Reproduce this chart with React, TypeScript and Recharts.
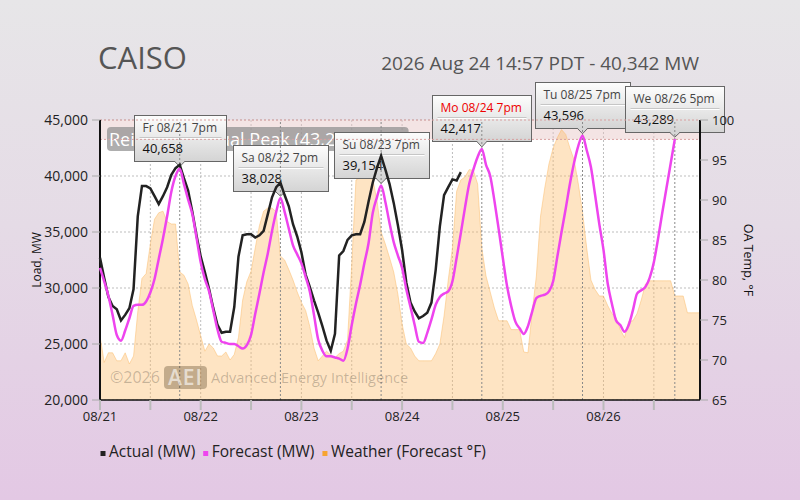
import React from "react"
import {
  ComposedChart,
  Line,
  Area,
  XAxis,
  YAxis,
  CartesianGrid,
  ReferenceArea,
  ReferenceLine,
  ReferenceDot,
} from "recharts"

// hourly values, hour 0 = 08/21 00:00 PDT
const ACTUAL_MW = [
  32700, 30900, 29200, 28400, 28100, 27100, 27600, 28200, 29900, 36400, 39100, 39100,
  38900, 38200, 37500, 38200, 39000, 40100, 40700, 41000, 39800, 38700, 36800, 34700,
  32800, 31400, 29900, 28200, 26700, 26000, 26100, 26100, 28300, 32800, 34700, 34800,
  34800, 34500, 34700, 35100, 36600, 38100, 39000, 39400, 38300, 37300, 35700, 34600,
  33200, 31200, 30100, 28900, 27800, 26600, 25300, 24400, 25900, 32900, 33300, 34300,
  34700, 34800, 34800, 35900, 37700, 39400, 40700, 41800, 40600, 39300, 37600, 35600,
  33400, 30500, 28700, 27900, 27300, 27500, 27800, 28700, 31600, 35500, 38300, 39000,
  39700, 39600, 40342,
]

const FORECAST_MW = [
  31800, 30600, 29300, 27600, 25800, 25300, 26200, 27300, 28400, 28500, 28500, 28800,
  29600, 30800, 32600, 34400, 36400, 38600, 40000, 40658, 39300, 37900, 36600, 34500,
  32300, 30800, 29700, 28000, 26300, 25200, 25100, 25000, 25000, 24800, 24600, 24900,
  25800, 27700, 29500, 31400, 33100, 35100, 36800, 38028, 36800, 35300, 33800, 33000,
  32200, 31000, 29700, 27600, 25400, 24400, 23900, 23900, 23800, 23700, 23500, 24600,
  26700, 28600, 30300, 32200, 34000, 36700, 38100, 39154, 37700, 35800, 34100, 32900,
  31800, 29900, 28300, 26700, 25200, 25100, 26000, 27200, 28500, 29200, 29500, 29700,
  30600, 32700, 34900, 37200, 39300, 40600, 41700, 42417, 41000, 40000, 37800, 35300,
  32700, 30200, 28400, 27000, 26400, 25900, 26600, 27900, 29100, 29300, 29400, 29700,
  30600, 32800, 35000, 37100, 39300, 41200, 42700, 43596, 42300, 40800, 38300, 35700,
  33400, 30400, 28600, 27100, 26700, 26100, 26700, 28000, 29500, 29800, 30100, 30900,
  32300, 34400, 36700, 38900, 41100, 43289,
]

const TEMP_F = [
  73, 69.7, 70.9, 70.9, 69.9, 69.9, 70.9, 69.5, 70.5, 76, 80.2, 80.8,
  84.5, 87.6, 88.4, 88.6, 87.3, 87, 87, 81, 80.6, 79.5, 76.8, 75,
  73, 71.1, 72, 71.5, 70.5, 70.5, 71, 70, 70.7, 72.8, 77.5, 79.8,
  81.1, 84, 86.8, 88.6, 89, 89, 88.5, 83, 82.5, 81.3, 80, 78.5,
  77.2, 76.2, 74.2, 71.5, 69.9, 70.5, 71.1, 70.6, 70.3, 70.8, 71.1, 72.5,
  82, 92.5, 92.8, 92.8, 92.8, 92.6, 90, 86, 84.5, 82.8, 81, 78.2,
  74.5, 72, 71.5, 70.5, 69.9, 69.9, 69.9, 69.9, 70.8, 72, 75.5, 80,
  84, 91.1, 92.5, 92.9, 93.8, 93.7, 92, 84, 80.5, 78.5, 76.5, 74.9,
  74.9, 74.9, 73.8, 73.8, 73.8, 71, 70.9, 76, 80.5, 88, 91.5, 94.5,
  96.5, 97.8, 98.8, 98.2, 96.5, 95, 92, 88.5, 84, 80, 78.8, 78,
  78, 76.8, 75.8, 75.3, 73.8, 72.8, 74.8, 74.9, 75.8, 77.5, 79.5, 79.9,
  79.9, 79.9, 79.9, 79.9, 79.9, 78, 78, 78, 75.9, 75.9, 75.9, 75.9,
]

const DAY_LABELS = ["08/21", "08/22", "08/23", "08/24", "08/25", "08/26"]
const HOUR_TICKS = [0, 12, 24, 36, 48, 60, 72, 84, 96, 108, 120, 132]
const LOAD_TICKS = [20000, 25000, 30000, 35000, 40000, 45000]
const TEMP_TICKS = [65, 70, 75, 80, 85, 90, 95, 100]

const PEAK_HOURS = [19, 43, 67, 91, 115, 137]
const PEAK_LABELS = ["Fr 08/21 7pm", "Sa 08/22 7pm", "Su 08/23 7pm", "Mo 08/24 7pm", "Tu 08/25 7pm", "We 08/26 5pm"]
const TODAY_INDEX = 3
const RECORD_PEAK_MW = 43270

const SERIES_NAMES = ["Actual (MW)", "Forecast (MW)", "Weather (Forecast °F)"]
const SERIES_COLORS = ["#222222", "#ee44ee", "#f7a431"]

const TITLE = "CAISO"
const SUBTITLE = "2026 Aug 24 14:57 PDT - 40,342 MW"

const FONT = "'Open Sans', sans-serif"

const data = TEMP_F.map((temp, hour) => ({
  hour,
  temp,
  actual: hour < ACTUAL_MW.length ? ACTUAL_MW[hour] : null,
  forecast: hour < FORECAST_MW.length ? FORECAST_MW[hour] : null,
}))

const fmt = (v: number) => v.toLocaleString("en-US")

let measureCtx: CanvasRenderingContext2D | null = null
function textWidth(s: string, size: number) {
  if (!measureCtx) measureCtx = document.createElement("canvas").getContext("2d")
  if (!measureCtx) return s.length * size * 0.55
  measureCtx.font = `${size}px 'Open Sans'`
  return measureCtx.measureText(s).width
}

function PeakBox({ cx, cy, label, value, today, id }: any) {
  if (cx == null || cy == null) return null
  const w = Math.round(Math.max(textWidth(label, 12), textWidth(fmt(value), 13)) + 18)
  const h = 46
  const x = Math.round(cx - w / 2) + 0.5
  const bottom = Math.round(cy - 7.5) + 0.5
  const y = bottom - h
  return (
    <g>
      <defs>
        <linearGradient id={`pk${id}`} x1="0" y1="0" x2="0" y2="1">
          <stop offset="0" stopColor="#fdfdfd" />
          <stop offset="1" stopColor="#d4d4d4" />
        </linearGradient>
      </defs>
      <rect x={x} y={y} width={w} height={h} fill={`url(#pk${id})`} stroke="#666" />
      <path d={`M${cx - 5},${bottom - 0.5} L${cx},${cy - 2} L${cx + 5},${bottom - 0.5} Z`} fill="#d5d5d5" />
      <path d={`M${cx - 5},${bottom} L${cx},${cy - 2} L${cx + 5},${bottom}`} fill="none" stroke="#666" />
      <line x1={x + 5} x2={x + w - 5} y1={y + 22} y2={y + 22} stroke="#c6c6c6" />
      <line x1={x + 5} x2={x + w - 5} y1={y + 23} y2={y + 23} stroke="#ffffff" />
      <text x={x + 8} y={y + 16} fontSize={12} fill={today ? "#ee0000" : "#444"} fontFamily={FONT}>
        {label}
      </text>
      <text x={x + 8} y={y + 37} fontSize={13} fill="#111" fontFamily={FONT}>
        {fmt(value)}
      </text>
    </g>
  )
}

function BandLabel({ viewBox }: any) {
  if (!viewBox) return null
  const text = `Reigning Annual Peak (${fmt(RECORD_PEAK_MW)} MW)`
  const w = textWidth(text, 18) + 12
  const x = viewBox.x + 7
  const y = viewBox.y + 7
  return (
    <g>
      <rect x={x} y={y} width={w} height={24} rx={4} fill="#8c8c8c" fillOpacity={0.7} />
      <text x={x + 2} y={y + 19} fontSize={18} fill="#fff" fontFamily={FONT}>
        {text}
      </text>
    </g>
  )
}

function Legend() {
  let x = 100.5
  const items = SERIES_NAMES.map((name, i) => {
    const item = (
      <g key={name}>
        <rect x={x} y={451} width={5} height={5} fill={SERIES_COLORS[i]} />
        <text x={x + 8.5} y={456.5} fontSize={15.5} fill="#222" fontFamily={FONT}>
          {name}
        </text>
      </g>
    )
    x += 8.5 + textWidth(name, 15.5) + 8
    return item
  })
  return <g>{items}</g>
}

export default function App() {
  return (
    <div
      style={{
        position: "absolute",
        left: 0,
        top: 0,
        width: 800,
        height: 500,
        background: "linear-gradient(to bottom, #e7e6e8 0%, #e5dbe6 45%, #e3c8e4 100%)",
        fontFamily: FONT,
      }}
    >
      <div style={{ position: "absolute", left: 0, top: 0 }}>
        <ComposedChart
          width={800}
          height={500}
          data={data}
          margin={{ top: 120, right: 40, bottom: 70, left: 40 }}
          style={{ fontFamily: FONT }}
        >
          <CartesianGrid yAxisId="load" stroke="#bdbdbd" strokeDasharray="2 2" fill="#ffffff" fillOpacity={1} />
          <ReferenceArea
            yAxisId="load"
            y1={RECORD_PEAK_MW}
            y2={45000}
            fill="#e6c4c4"
            fillOpacity={0.45}
            stroke="none"
            label={(p: any) => <BandLabel viewBox={p.viewBox} />}
          />
          <XAxis
            dataKey="hour"
            type="number"
            domain={[0, 143]}
            ticks={HOUR_TICKS}
            interval={0}
            height={30}
            tickSize={10}
            tickMargin={2}
            tickFormatter={(h: number) => (h % 24 === 0 ? DAY_LABELS[h / 24] : "")}
            tick={{ fontSize: 13, fill: "#222" }}
            tickLine={{ stroke: "#bbb", strokeWidth: 2 }}
            axisLine={{ stroke: "#111", strokeWidth: 1.5 }}
          />
          <YAxis
            yAxisId="load"
            orientation="left"
            width={60}
            domain={[20000, 45000]}
            ticks={LOAD_TICKS}
            tickFormatter={fmt}
            tickSize={8}
            tickMargin={4}
            tick={{ fontSize: 14, fill: "#222" }}
            tickLine={{ stroke: "#aaa" }}
            axisLine={{ stroke: "#111", strokeWidth: 2 }}
          />
          <YAxis
            yAxisId="temp"
            orientation="right"
            width={60}
            domain={[65, 100]}
            ticks={TEMP_TICKS}
            tickSize={8}
            tickMargin={4}
            tick={{ fontSize: 13, fill: "#222" }}
            tickLine={{ stroke: "#aaa" }}
            axisLine={{ stroke: "#111", strokeWidth: 2 }}
          />
          <Area
            yAxisId="temp"
            dataKey="temp"
            type="linear"
            fill="#fcbc69"
            fillOpacity={0.4}
            stroke="#fcbc69"
            strokeOpacity={0.5}
            strokeWidth={1}
            dot={false}
            activeDot={false}
            isAnimationActive={false}
          />
          <ReferenceLine yAxisId="load" y={45000} stroke="#d8a0a0" strokeDasharray="2 2" />
          <ReferenceLine yAxisId="load" y={RECORD_PEAK_MW} stroke="#d8a0a0" strokeDasharray="2 2" />
          {PEAK_HOURS.map((h) => (
            <ReferenceLine key={`pl${h}`} yAxisId="load" x={h} stroke="#8a8a8a" strokeDasharray="2 2" />
          ))}
          {PEAK_HOURS.map((h, i) => (
            <ReferenceDot
              key={`pd${h}`}
              yAxisId="load"
              x={h}
              y={FORECAST_MW[h]}
              r={3}
              ifOverflow="visible"
              zIndex={300}
              shape={(p: any) => (
                <PeakBox cx={p.cx} cy={p.cy} label={PEAK_LABELS[i]} value={FORECAST_MW[h]} today={i === TODAY_INDEX} id={i} />
              )}
            />
          ))}
          <Line
            yAxisId="load"
            dataKey="actual"
            type="linear"
            stroke="#222"
            strokeWidth={2.5}
            dot={false}
            activeDot={false}
            isAnimationActive={false}
            zIndex={1000}
          />
          <Line
            yAxisId="load"
            dataKey="forecast"
            type="monotone"
            stroke="#ee44ee"
            strokeWidth={2.5}
            dot={false}
            activeDot={false}
            isAnimationActive={false}
            zIndex={1000}
          />
        </ComposedChart>
      </div>
      <svg width={800} height={500} style={{ position: "absolute", left: 0, top: 0, pointerEvents: "none" }}>
        <text x={98} y={69} fontSize={31} fill="#555" fontFamily={FONT}>
          {TITLE}
        </text>
        <text x={699} y={70} fontSize={19} fill="#555" textAnchor="end" fontFamily={FONT}>
          {SUBTITLE}
        </text>
        <text x={41} y={260} fontSize={12} fill="#111" textAnchor="middle" transform="rotate(-90 41 260)" fontFamily={FONT}>
          Load, MW
        </text>
        <text x={744} y={260} fontSize={12.5} fill="#111" textAnchor="middle" transform="rotate(90 744 260)" fontFamily={FONT}>
          OA Temp, °F
        </text>
        <g fontFamily={FONT}>
          <text x={110} y={383} fontSize={16} fill="rgba(0,0,0,0.22)">
            ©2026
          </text>
          <rect x={164} y={366} width={43} height={23} rx={4} fill="rgba(60,40,10,0.3)" />
          <text x={185.5} y={385} fontSize={21} fontWeight={600} letterSpacing={1} textAnchor="middle" fill="rgba(255,255,255,0.6)">
            AEI
          </text>
          <text x={211} y={383} fontSize={14.5} fill="rgba(0,0,0,0.22)">
            Advanced Energy Intelligence
          </text>
        </g>
        <Legend />
      </svg>
    </div>
  )
}
